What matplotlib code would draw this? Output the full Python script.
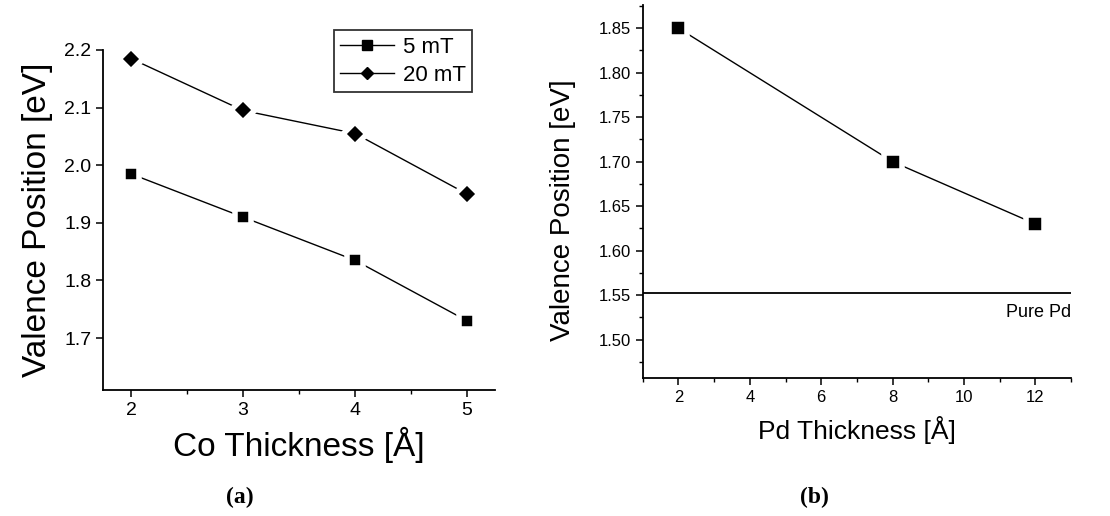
import matplotlib
matplotlib.use('Agg')
import matplotlib.pyplot as plt
from matplotlib.ticker import MultipleLocator
from matplotlib.lines import Line2D

plt.rcParams['font.family'] = ['Liberation Sans', 'DejaVu Sans']

# Panel (a): valence position vs Co thickness
co_thickness = [2, 3, 4, 5]
vp_5mT = [1.985, 1.91, 1.835, 1.73]
vp_20mT = [2.185, 2.095, 2.055, 1.95]

# Panel (b): valence position vs Pd thickness
pd_thickness = [2, 8, 12]
vp_pd = [1.85, 1.70, 1.63]
pure_pd = 1.552

fig = plt.figure(figsize=(11.1, 5.16), dpi=100)
ax1 = fig.add_axes([0.0928, 0.2442, 0.3532, 0.659])
ax2 = fig.add_axes([0.579, 0.2674, 0.386, 0.7229])

for ax in (ax1, ax2):
    ax.spines['top'].set_visible(False)
    ax.spines['right'].set_visible(False)
    ax.spines['left'].set_linewidth(1.3)
    ax.spines['bottom'].set_linewidth(1.3)
    ax.tick_params(which='major', direction='out', length=5, width=1.1)
    ax.tick_params(which='minor', direction='out', length=3, width=1.0)

# (a) - white marker edges make the small gaps around points
ax1.plot(co_thickness, vp_5mT, color='black', lw=1.0, marker='s', ms=12,
         mfc='black', mec='white', mew=4)
ax1.plot(co_thickness, vp_20mT, color='black', lw=1.0, marker='D', ms=12,
         mfc='black', mec='white', mew=4)
ax1.set_xlim(1.75, 5.25)
ax1.set_ylim(1.61, 2.2)
ax1.set_xticks([2, 3, 4, 5])
ax1.xaxis.set_minor_locator(MultipleLocator(0.5))
ax1.set_yticks([1.7, 1.8, 1.9, 2.0, 2.1, 2.2])
ax1.set_yticklabels(['1.7', '1.8', '1.9', '2.0', '2.1', '2.2'])
ax1.tick_params(labelsize=14)
ax1.set_xlabel('Co Thickness [Å]', fontsize=24, labelpad=6)
ax1.set_ylabel('Valence Position [eV]', fontsize=24, labelpad=8)

handles = [Line2D([], [], color='black', lw=1.0, marker='s', ms=7),
           Line2D([], [], color='black', lw=1.0, marker='D', ms=6.5)]
leg = ax1.legend(handles, ['5 mT', '20 mT'], loc='upper right',
                 bbox_to_anchor=(0.4355, 0.963), bbox_transform=fig.transFigure,
                 fontsize=16, frameon=True, fancybox=False, edgecolor='black',
                 handlelength=2.4, handletextpad=0.4, borderpad=0.3,
                 labelspacing=0.3)
leg.get_frame().set_linewidth(1.3)

# (b)
ax2.plot(pd_thickness, vp_pd, color='black', lw=1.0, marker='s', ms=13.5,
         mfc='black', mec='white', mew=4)
ax2.axhline(pure_pd, color='black', lw=1.3)
ax2.text(13.0, 1.531, 'Pure Pd', ha='right', va='center', fontsize=13)
ax2.set_xlim(1, 13)
ax2.set_ylim(1.457, 1.876)
ax2.set_xticks([2, 4, 6, 8, 10, 12])
ax2.xaxis.set_minor_locator(MultipleLocator(1))
ax2.set_yticks([1.50, 1.55, 1.60, 1.65, 1.70, 1.75, 1.80, 1.85])
ax2.set_yticklabels(['1.50', '1.55', '1.60', '1.65', '1.70', '1.75', '1.80', '1.85'])
ax2.yaxis.set_minor_locator(MultipleLocator(0.025))
ax2.tick_params(labelsize=12)
ax2.set_xlabel('Pd Thickness [Å]', fontsize=19, labelpad=8)
ax2.set_ylabel('Valence Position [eV]', fontsize=20)
ax2.yaxis.set_label_coords(-0.155, 0.45)

fig.text(0.216, 0.035, '(a)', ha='center', va='center', fontsize=17,
         fontweight='bold', family='Liberation Serif')
fig.text(0.734, 0.035, '(b)', ha='center', va='center', fontsize=17,
         fontweight='bold', family='Liberation Serif')

fig.savefig('out.png', dpi=100)
